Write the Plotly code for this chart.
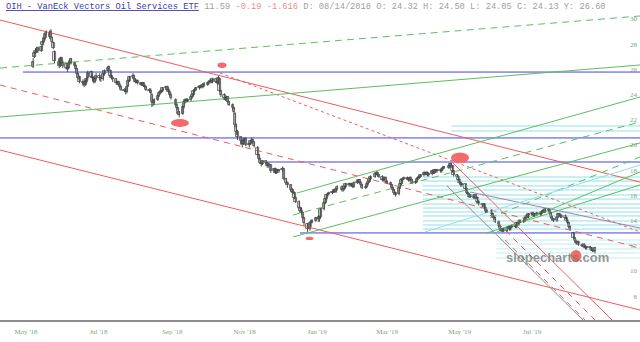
import pandas as pd
import plotly.graph_objects as go

# ---------------- data ----------------
HOLIDAYS = ['2018-05-28', '2018-07-04', '2018-09-03', '2018-11-22', '2018-12-05', '2018-12-25',
            '2019-01-01', '2019-01-21', '2019-02-18', '2019-04-19', '2019-05-27', '2019-07-04']
FIRST_DAY = '2018-05-07'
LAST_DAY = '2019-08-23'

open_ = [
    26.2, 27.0, 27.3, 27.4, 27.7, 27.5, 27.9, 28.2, 28.4, 28.9, 28.6, 29.0, 28.5, 28.1, 27.4, 26.6, 26.3, 26.9,
    26.5, 26.4, 26.1, 26.1, 26.5, 26.8, 26.5, 26.3, 26.0, 25.6, 25.4, 25.0, 25.0, 24.8, 25.0, 25.3, 25.8, 25.4, 25.3, 25.0, 25.2,
    25.5, 25.3, 25.2, 25.6, 25.9, 26.2, 25.9, 25.5, 25.3, 25.2, 24.9, 25.0, 24.8, 24.6, 24.4, 24.4, 24.2, 24.7, 25.1, 25.4, 25.5,
    25.2, 25.0, 25.1, 24.9, 24.8, 24.9, 24.7, 24.6, 24.4, 24.32, 24.0, 23.4, 23.3, 23.6, 23.9, 24.1, 24.2, 24.3, 24.5, 24.6, 24.4, 24.2, 24.0,
    23.6, 23.2, 22.9, 22.6, 22.5, 23.0, 23.4, 23.6, 23.5, 23.6, 23.8, 24.0, 24.3, 24.4, 24.5, 24.6, 24.7, 24.6, 24.8,
    24.8, 24.9, 25.0, 25.1, 25.0, 25.2, 25.0, 24.9, 25.2, 24.3, 24.0, 23.7, 23.6, 23.8, 23.4, 23.2, 22.9, 22.5, 21.6, 21.0, 20.6, 20.3, 20.1,
    20.3, 20.5, 20.0, 20.1, 20.3, 20.4, 20.2, 19.8, 19.2, 18.9, 18.6, 18.5, 18.7, 18.6, 18.3, 18.4, 17.9, 18.1, 17.8, 18.0, 17.9,
    18.0, 18.1, 17.3, 17.0, 16.8, 16.4, 16.3, 16.2, 15.8, 15.5, 15.0, 14.8, 14.6, 14.2, 13.7, 13.3, 13.8, 13.9, 14.0,
    14.2, 14.1, 14.3, 14.9, 15.4, 15.7, 16.0, 16.1, 16.2, 16.3, 16.4, 16.3, 16.5, 16.7, 16.4, 16.5, 16.7, 16.9, 16.8, 16.9, 16.8,
    16.7, 17.0, 17.1, 17.2, 17.0, 16.8, 16.6, 16.7, 16.9, 17.1, 17.3, 17.5, 17.7, 17.8, 17.6, 17.5, 17.2, 17.3, 17.4,
    17.1, 17.0, 16.8, 16.6, 16.4, 16.2, 16.1, 16.6, 16.9, 17.2, 17.3, 17.4, 17.3, 17.2, 17.4, 17.2, 17.0, 17.1, 17.3, 17.4, 17.5,
    17.6, 17.8, 17.7, 17.8, 17.6, 17.7, 17.9, 17.8, 18.0, 17.9, 18.0, 17.9, 18.1, 18.2, 18.2, 18.3, 18.5, 18.3, 17.9, 17.6, 17.5,
    17.2, 17.0, 16.8, 16.9, 16.5, 16.2, 16.1, 15.9, 16.0, 15.8, 16.0, 15.8, 15.5, 15.3, 15.2, 15.3, 15.0, 14.7, 14.8, 14.5, 14.3, 14.2,
    13.9, 13.6, 13.3, 13.2, 13.3, 13.2, 13.4, 13.5, 13.3, 13.5, 13.6, 13.5, 13.8, 13.7, 14.0, 13.9, 14.0, 14.2, 14.4, 14.3,
    14.5, 14.6, 14.4, 14.5, 14.6, 14.5, 14.7, 14.8, 14.7, 14.9, 14.8, 14.6, 14.3, 14.1, 14.0, 14.3, 14.5, 14.4, 14.3, 14.4, 14.2, 14.0,
    13.8, 13.5, 13.0, 12.6, 12.4, 12.2, 12.3, 12.1, 12.0, 12.1, 11.9, 11.8, 11.9, 11.8, 11.7, 11.6, 11.8,
]
high = [
    26.9, 27.4, 27.7, 27.8, 27.8, 27.9, 28.3, 28.6, 28.9, 29.1, 29.1, 29.2, 28.6, 28.2, 27.5, 26.8, 27.0, 27.0,
    26.7, 26.5, 26.3, 26.6, 26.9, 26.9, 26.6, 26.4, 26.1, 25.7, 25.5, 25.2, 25.1, 25.2, 25.4, 25.9, 25.9, 25.6, 25.4, 25.4, 25.7,
    25.7, 25.4, 25.7, 26.0, 26.3, 26.3, 26.0, 25.6, 25.4, 25.3, 25.1, 25.1, 24.9, 24.7, 24.5, 24.5, 24.7, 25.2, 25.5, 25.7, 25.6,
    25.3, 25.2, 25.2, 25.0, 25.0, 25.0, 24.8, 24.7, 24.5, 24.50, 24.1, 23.6, 23.7, 24.0, 24.2, 24.3, 24.4, 24.6, 24.7, 24.7, 24.5, 24.3, 24.1,
    23.7, 23.3, 23.0, 22.7, 23.1, 23.5, 23.7, 23.7, 23.7, 23.9, 24.1, 24.4, 24.5, 24.6, 24.7, 24.8, 24.8, 24.9, 25.0,
    25.0, 25.1, 25.3, 25.2, 25.3, 25.3, 25.1, 25.5, 25.3, 24.4, 24.1, 23.8, 23.9, 23.9, 23.5, 23.3, 23.0, 22.6, 21.7, 21.2, 20.7, 20.4, 20.5,
    20.6, 20.6, 20.2, 20.4, 20.6, 20.5, 20.3, 19.9, 19.3, 19.0, 18.7, 18.8, 18.8, 18.7, 18.6, 18.5, 18.2, 18.2, 18.1, 18.1, 18.1,
    18.3, 18.2, 17.4, 17.1, 16.9, 16.6, 16.5, 16.3, 15.9, 15.6, 15.1, 15.0, 14.7, 14.3, 13.8, 13.9, 14.1, 14.1, 14.3,
    14.4, 14.4, 15.0, 15.5, 15.8, 16.1, 16.2, 16.3, 16.4, 16.5, 16.5, 16.6, 16.8, 16.8, 16.6, 16.8, 17.0, 17.0, 17.0, 17.0, 16.9,
    17.1, 17.2, 17.3, 17.3, 17.1, 16.9, 16.8, 17.0, 17.2, 17.4, 17.6, 17.8, 17.9, 17.9, 17.7, 17.6, 17.4, 17.5, 17.5,
    17.2, 17.1, 16.9, 16.7, 16.5, 16.3, 16.7, 17.0, 17.3, 17.4, 17.5, 17.5, 17.4, 17.5, 17.5, 17.3, 17.2, 17.4, 17.5, 17.6, 17.7,
    17.9, 17.9, 17.9, 17.9, 17.8, 18.0, 18.0, 18.1, 18.1, 18.1, 18.1, 18.2, 18.3, 18.3, 18.4, 18.6, 18.6, 18.4, 18.0, 17.7, 17.6,
    17.3, 17.1, 17.0, 16.9, 16.6, 16.3, 16.2, 16.1, 16.1, 16.1, 16.1, 15.9, 15.6, 15.4, 15.4, 15.4, 15.1, 14.9, 14.9, 14.6, 14.4, 14.3,
    14.0, 13.7, 13.4, 13.4, 13.4, 13.5, 13.6, 13.6, 13.6, 13.7, 13.7, 13.9, 13.9, 14.1, 14.1, 14.1, 14.3, 14.5, 14.5, 14.6,
    14.7, 14.7, 14.6, 14.7, 14.7, 14.8, 14.9, 14.9, 15.0, 15.0, 14.9, 14.7, 14.4, 14.2, 14.4, 14.6, 14.6, 14.5, 14.5, 14.5, 14.3, 14.1,
    13.9, 13.6, 13.1, 12.7, 12.5, 12.4, 12.4, 12.2, 12.2, 12.2, 12.0, 12.0, 12.0, 11.9, 11.8, 11.9, 11.9,
]
low = [
    26.1, 26.9, 27.2, 27.3, 27.3, 27.4, 27.8, 28.1, 28.3, 28.5, 28.4, 28.5, 28.1, 27.6, 26.5, 26.1, 26.2, 26.4,
    26.1, 26.0, 25.8, 26.0, 26.4, 26.4, 26.2, 25.9, 25.5, 25.2, 24.9, 24.7, 24.6, 24.7, 24.9, 25.2, 25.3, 25.1, 24.9, 24.9, 25.1,
    25.1, 25.0, 25.1, 25.5, 25.8, 25.9, 25.4, 25.2, 25.0, 24.8, 24.8, 24.7, 24.5, 24.3, 24.2, 24.0, 24.1, 24.6, 25.0, 25.3, 25.1,
    24.9, 24.9, 24.8, 24.7, 24.7, 24.6, 24.5, 24.3, 24.2, 24.05, 23.0, 23.1, 23.2, 23.5, 23.8, 24.0, 24.1, 24.2, 24.4, 24.3, 24.1, 23.9, 23.6,
    23.1, 22.8, 22.4, 22.2, 22.4, 22.9, 23.3, 23.4, 23.4, 23.5, 23.7, 23.9, 24.2, 24.3, 24.4, 24.5, 24.5, 24.5, 24.6,
    24.7, 24.8, 24.9, 24.9, 24.9, 24.9, 24.8, 24.8, 24.2, 23.8, 23.6, 23.5, 23.5, 23.3, 23.1, 22.8, 22.5, 21.4, 20.8, 20.4, 20.0, 19.8, 20.0,
    20.2, 19.9, 19.8, 20.0, 20.2, 20.1, 19.8, 19.1, 18.8, 18.5, 18.3, 18.4, 18.5, 18.2, 18.2, 17.8, 17.8, 17.7, 17.7, 17.8, 17.8,
    17.9, 17.2, 16.9, 16.6, 16.3, 16.2, 16.1, 15.7, 15.4, 14.9, 14.7, 14.5, 14.1, 13.6, 13.1, 13.2, 13.5, 13.8, 13.9,
    13.9, 13.9, 14.2, 14.8, 15.3, 15.6, 15.9, 16.0, 16.1, 16.2, 16.2, 16.2, 16.4, 16.3, 16.3, 16.4, 16.6, 16.7, 16.7, 16.7, 16.6,
    16.6, 16.9, 17.0, 16.9, 16.7, 16.5, 16.5, 16.6, 16.8, 17.0, 17.2, 17.4, 17.6, 17.5, 17.4, 17.1, 17.1, 17.2, 17.0,
    16.9, 16.7, 16.5, 16.3, 16.1, 15.9, 16.0, 16.5, 16.8, 17.1, 17.2, 17.2, 17.1, 17.1, 17.1, 16.9, 16.9, 17.0, 17.2, 17.3, 17.4,
    17.5, 17.6, 17.6, 17.5, 17.5, 17.6, 17.7, 17.7, 17.8, 17.8, 17.8, 17.8, 18.0, 18.1, 18.1, 18.2, 18.2, 17.8, 17.5, 17.4, 17.1,
    16.9, 16.7, 16.7, 16.4, 16.1, 16.0, 15.8, 15.8, 15.7, 15.7, 15.7, 15.4, 15.2, 15.1, 15.1, 14.9, 14.6, 14.6, 14.4, 14.2, 14.1, 13.8,
    13.5, 13.2, 13.1, 13.1, 13.1, 13.1, 13.3, 13.2, 13.2, 13.4, 13.4, 13.4, 13.6, 13.6, 13.8, 13.8, 13.9, 14.1, 14.2, 14.2,
    14.4, 14.3, 14.3, 14.4, 14.4, 14.4, 14.6, 14.6, 14.6, 14.7, 14.5, 14.2, 14.0, 13.9, 13.9, 14.2, 14.3, 14.2, 14.2, 14.1, 13.9, 13.7,
    13.4, 13.2, 12.5, 12.3, 12.1, 12.1, 12.0, 11.9, 11.9, 11.8, 11.7, 11.7, 11.7, 11.6, 11.5, 11.5, 11.4,
]
close = [
    26.6, 27.3, 27.5, 27.6, 27.5, 27.8, 28.2, 28.5, 28.8, 28.7, 28.9, 28.6, 28.2, 27.7, 26.7, 26.3, 26.8, 26.5,
    26.3, 26.1, 26.0, 26.5, 26.7, 26.5, 26.3, 26.0, 25.6, 25.3, 25.0, 24.9, 24.8, 25.0, 25.2, 25.7, 25.4, 25.3, 25.0, 25.2, 25.5,
    25.3, 25.2, 25.6, 25.9, 26.1, 26.0, 25.5, 25.3, 25.2, 24.9, 25.0, 24.8, 24.6, 24.4, 24.3, 24.2, 24.6, 25.1, 25.4, 25.5, 25.2,
    25.0, 25.1, 24.9, 24.8, 24.9, 24.7, 24.6, 24.4, 24.3, 24.13, 23.4, 23.3, 23.6, 23.9, 24.1, 24.2, 24.3, 24.5, 24.6, 24.4, 24.2, 24.0, 23.7,
    23.2, 22.9, 22.5, 22.4, 23.0, 23.4, 23.6, 23.5, 23.6, 23.8, 24.0, 24.3, 24.4, 24.5, 24.6, 24.7, 24.6, 24.8, 24.8,
    24.9, 25.0, 25.1, 25.0, 25.2, 25.0, 24.9, 25.3, 24.3, 24.0, 23.7, 23.6, 23.8, 23.4, 23.2, 22.9, 22.6, 21.6, 21.0, 20.6, 20.3, 20.1, 20.3,
    20.5, 20.0, 20.1, 20.3, 20.4, 20.2, 19.9, 19.2, 18.9, 18.6, 18.5, 18.7, 18.6, 18.3, 18.5, 17.9, 18.1, 17.8, 18.0, 17.9, 18.0,
    18.1, 17.3, 17.0, 16.8, 16.4, 16.3, 16.2, 15.8, 15.5, 15.0, 14.8, 14.6, 14.2, 13.8, 13.3, 13.8, 13.9, 14.0, 14.2,
    14.1, 14.3, 14.9, 15.4, 15.7, 16.0, 16.1, 16.2, 16.3, 16.4, 16.3, 16.5, 16.7, 16.4, 16.5, 16.7, 16.9, 16.8, 16.9, 16.8, 16.7,
    17.0, 17.1, 17.2, 17.0, 16.8, 16.6, 16.7, 16.9, 17.1, 17.3, 17.5, 17.7, 17.8, 17.6, 17.5, 17.2, 17.3, 17.4, 17.1,
    17.0, 16.8, 16.6, 16.4, 16.2, 16.0, 16.6, 16.9, 17.2, 17.3, 17.4, 17.3, 17.2, 17.4, 17.2, 17.0, 17.1, 17.3, 17.4, 17.5, 17.6,
    17.8, 17.7, 17.8, 17.6, 17.7, 17.9, 17.8, 18.0, 17.9, 18.0, 17.9, 18.1, 18.2, 18.2, 18.3, 18.5, 18.3, 17.9, 17.6, 17.5, 17.2,
    17.0, 16.8, 16.9, 16.5, 16.2, 16.1, 15.9, 16.0, 15.8, 16.0, 15.8, 15.5, 15.3, 15.2, 15.3, 15.0, 14.7, 14.8, 14.5, 14.3, 14.2, 13.9,
    13.6, 13.3, 13.2, 13.3, 13.2, 13.4, 13.5, 13.3, 13.5, 13.6, 13.5, 13.8, 13.7, 14.0, 13.9, 14.0, 14.2, 14.4, 14.3, 14.5,
    14.6, 14.4, 14.5, 14.6, 14.5, 14.7, 14.8, 14.7, 14.9, 14.8, 14.6, 14.3, 14.1, 14.0, 14.3, 14.5, 14.4, 14.3, 14.4, 14.2, 14.0, 13.8,
    13.5, 13.3, 12.6, 12.4, 12.2, 12.3, 12.1, 12.0, 12.1, 11.9, 11.8, 11.9, 11.8, 11.7, 11.6, 11.78, 11.59,
]

X_START = '2018-04-09 02:40'
X_END = '2019-09-29 20:10'
Y_MIN, Y_MAX = 6.111, 31.508

# trend lines: name, start date, start price, end date, end price
trend_lines = [
    ('L1', X_START, 29.92, X_END, 17.06),
    ('L4', X_START, 19.60, X_END, 6.90),
    ('S1', '2019-04-25 10:00', 18.57, '2019-09-06 07:00', 6.11),
    ('L2', '2018-10-11 07:00', 25.71, X_END, 13.10),
    ('L3', X_START, 24.76, X_END, 11.83),
    ('D1', '2019-05-26 14:00', 14.44, '2019-08-23 00:00', 6.11),
    ('D2', '2019-06-08 05:00', 12.46, '2019-08-14 12:00', 6.11),
    ('G1', X_START, 22.22, X_END, 26.35),
    ('G2', X_START, 26.11, X_END, 30.24),
    ('G3', '2018-12-15 02:00', 16.19, X_END, 23.81),
    ('G4', '2018-12-11 17:00', 14.44, X_END, 21.83),
    ('G5', '2018-12-11 17:00', 12.70, X_END, 20.16),
    ('K0', '2019-05-24 00:00', 13.02, X_END, 16.83),
    ('K1', '2019-06-01 12:00', 13.10, X_END, 17.86),
    ('K2', '2019-05-26 14:00', 14.21, X_END, 19.05),
    ('S2', '2019-04-20 10:00', 16.75, '2019-08-12 21:00', 6.11),
    ('P1', '2019-05-09 17:00', 16.27, X_END, 13.41),
    ('C1', '2019-04-01 21:00', 13.10, X_END, 18.41),
]
# horizontal blue levels: start date, price
blue_levels = [('2018-04-28 12:00', 25.79), (X_START, 20.56),
               ('2018-11-20 17:00', 18.65), ('2018-12-17 14:00', 13.02)]
# horizontal cyan levels
cyan_levels = [21.51, 21.11,
               17.46, 17.14, 16.75, 16.43, 16.03, 15.71, 15.32, 15.00, 14.68, 14.37, 13.97, 13.65, 13.33,
               12.46, 12.14, 11.75, 11.43, 11.03]
cyan_starts = ['2019-04-24'] * 2 + ['2019-03-31'] * 13 + ['2019-06-01'] * 5

# red ovals: x0, x1, y0, y1
ovals = [
    ('2018-08-31 00:00', '2018-09-15 05:00', 21.43, 22.06),
    ('2018-10-09 05:00', '2018-10-16 19:00', 26.11, 26.55),
    ('2019-04-23 17:00', '2019-05-08 22:00', 18.57, 19.40),
    ('2018-12-22 07:00', '2018-12-29 00:00', 12.46, 12.71),
    ('2019-08-02 07:00', '2019-08-11 14:00', 10.71, 11.67),
]

tick_dates = ['2018-05-01', '2018-07-01', '2018-09-01', '2018-11-01',
              '2019-01-01', '2019-03-01', '2019-05-01', '2019-07-01']
tick_text = ["May '18", "Jul '18", "Sep '18", "Nov '18", "Jan '19", "Mar '19", "May '19", "Jul '19"]
y_ticks = [8, 10, 12, 14, 16, 18, 20, 22, 24, 26, 28, 30]

title_name = 'OIH - VanEck Vectors Oil Services ETF'
title_last = '11.59'
title_change = '-0.19 -1.616'
title_ohlc = 'D: 08/14/2018 O: 24.32 H: 24.50 L: 24.05 C: 24.13 Y: 26.60'

# ---------------- styles ----------------
RED = '#ec5c5c'
GREEN = '#5cbf5c'
BLUE = '#4242e6'
CYAN = '#92e0e8'
CYAN_LIGHT = '#bdeef2'
style = {
    'L1': (RED, 'solid'), 'L4': (RED, 'solid'), 'S1': (RED, 'solid'),
    'L2': (RED, 'dot'), 'L3': (RED, '6px,5px'), 'D1': (RED, '6px,5px'), 'D2': (RED, '6px,5px'),
    'G1': (GREEN, 'solid'), 'G3': (GREEN, 'solid'), 'G5': (GREEN, 'solid'),
    'K0': (GREEN, 'solid'), 'K1': (GREEN, 'solid'),
    'G2': (GREEN, '7px,5px'), 'G4': (GREEN, '7px,5px'), 'K2': (GREEN, '7px,5px'),
    'S2': ('#8c8c8c', 'solid'), 'P1': ('#9c7fb4', 'solid'), 'C1': (CYAN, 'solid'),
}
BODY_DAYS = 2.0   # candle body width, in days

dates = pd.bdate_range(FIRST_DAY, LAST_DAY, freq='C', holidays=HOLIDAYS)
n = min(len(dates), len(open_), len(high), len(low), len(close))
dates = dates[:n]
o, h, l, c = open_[:n], high[:n], low[:n], close[:n]

fig = go.Figure()

# cyan horizontal lines
for light in (False, True):
    xs, ys = [], []
    for i, (lvl, st) in enumerate(zip(cyan_levels, cyan_starts)):
        if (i >= 15) != light:
            continue
        xs += [st, X_END, None]
        ys += [lvl, lvl, None]
    fig.add_trace(go.Scatter(x=xs, y=ys, mode='lines', hoverinfo='skip',
                             line=dict(color=CYAN_LIGHT if light else CYAN, width=1)))

for st, lvl in blue_levels:
    fig.add_trace(go.Scatter(x=[st, X_END], y=[lvl, lvl], mode='lines', hoverinfo='skip',
                             line=dict(color=BLUE, width=1)))

for name, x0, y0, x1, y1 in trend_lines:
    col, dash = style[name]
    fig.add_trace(go.Scatter(x=[x0, x1], y=[y0, y1], mode='lines', hoverinfo='skip',
                             line=dict(color=col, width=1, dash=dash)))

# candles: wicks + bodies
wx, wy = [], []
for d, hi, lo in zip(dates, h, l):
    wx += [d, d, None]
    wy += [lo, hi, None]
fig.add_trace(go.Scatter(x=wx, y=wy, mode='lines', hoverinfo='skip',
                         line=dict(color='#4a4a4a', width=1)))
base = [min(a, b) for a, b in zip(o, c)]
size = [max(abs(b - a), 0.04) for a, b in zip(o, c)]
colors = ['#9ad69a' if b >= a else '#f2f2f2' for a, b in zip(o, c)]
fig.add_trace(go.Bar(x=dates, y=size, base=base, width=BODY_DAYS * 86400000,
                     marker=dict(color=colors, line=dict(color='#474747', width=0.8)),
                     hoverinfo='skip'))

shapes = []
for x0, x1, y0, y1 in ovals:
    shapes.append(dict(type='circle', xref='x', yref='y', x0=x0, x1=x1, y0=y0, y1=y1,
                       fillcolor='#f26a6a', line=dict(width=0), layer='above'))

title_html = (f"<span style='color:#3b3bab'><u>{title_name}</u></span> "
              f"<span style='color:#a0a0a0'>{title_last}</span> "
              f"<span style='color:#f08c8c'>{title_change}</span> "
              f"<span style='color:#a0a0a0'>{title_ohlc}</span>")

fig.update_layout(
    width=640, height=342,
    margin=dict(l=0, r=0, t=0, b=22),
    paper_bgcolor='white', plot_bgcolor='white',
    showlegend=False, hovermode=False, bargap=0,
    shapes=shapes,
    xaxis=dict(type='date', range=[X_START, X_END],
               tickvals=tick_dates, ticktext=tick_text, showgrid=False, zeroline=False,
               showline=True, linecolor='#8c8c8c', linewidth=2,
               ticks='outside', ticklen=4, tickcolor='rgba(0,0,0,0)',
               tickfont=dict(family='Liberation Serif', size=7, color='#7f9f7f')),
    yaxis=dict(range=[Y_MIN, Y_MAX], side='right', ticklabelposition='inside',
               tickvals=y_ticks, ticktext=[str(v) for v in y_ticks],
               showgrid=False, zeroline=False, showline=False, ticks='',
               tickfont=dict(family='Liberation Serif', size=7, color='#7f9f7f')),
    annotations=[
        dict(text=title_html, xref='paper', yref='paper', x=0, y=1, xanchor='left', yanchor='top',
             xshift=4, yshift=0, showarrow=False,
             font=dict(family='Liberation Mono', size=8.7, color='#a0a0a0')),
        dict(text='<b>slopecharts.com</b>', xref='paper', yref='paper',
             x=557 / 640, y=1 - 257 / 320, xanchor='center', yanchor='middle', showarrow=False,
             font=dict(family='Liberation Sans', size=13, color='rgba(120,120,120,0.8)')),
    ],
)

fig.write_html('out.html')
